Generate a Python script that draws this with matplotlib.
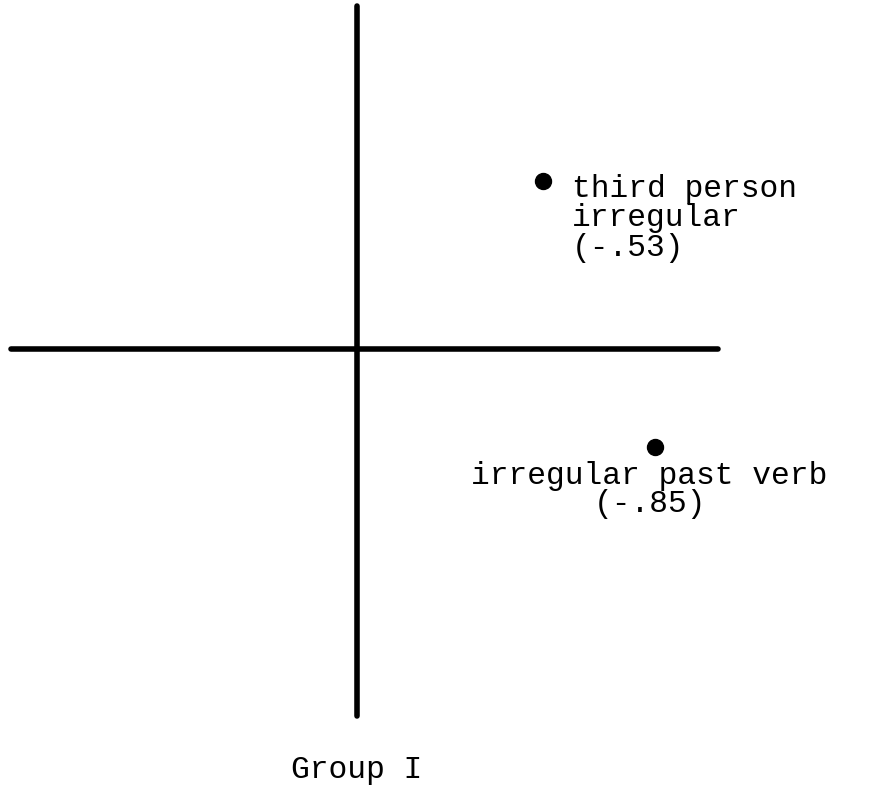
import matplotlib
matplotlib.use("Agg")
import matplotlib.pyplot as plt

# loadings for the two variables; horizontal position is the size of the loading
labels = ["third person\nirregular", "irregular past verb"]
loadings = [-0.53, -0.85]
y_pos = [0.48, -0.28]
group_name = "Group I"

# extent of the two axis arms
x_arm = (-0.99, 1.03)
y_arm = (-1.05, 0.98)

plt.rcParams['font.family'] = ['Liberation Mono', 'DejaVu Sans Mono']

fig = plt.figure(figsize=(8.96, 7.90), dpi=100)
ax = fig.add_axes([0, 0, 1, 1])
ax.set_xlim(-1.02, 1.54)
ax.set_ylim(-1.26, 0.997)
ax.axis('off')

ax.plot(x_arm, [0, 0], color='black', lw=4, solid_capstyle='round')
ax.plot([0, 0], y_arm, color='black', lw=4, solid_capstyle='round')

xs = [abs(v) for v in loadings]
ax.plot(xs, y_pos, 'o', color='black', ms=11.5)

fs = 22.5
# first point: label to the right of the dot
ax.text(xs[0] + 0.083, y_pos[0] - 0.106,
        labels[0] + "\n(%s)" % ("%.2f" % loadings[0]).replace("0.", "."),
        ha='left', va='center', fontsize=fs, linespacing=0.98)
# second point: label centred below the dot
ax.text(xs[1] - 0.014, y_pos[1] - 0.123,
        labels[1] + "\n(%s)" % ("%.2f" % loadings[1]).replace("0.", "."),
        ha='center', va='center', fontsize=fs, linespacing=0.95,
        multialignment='center')

ax.text(0, -1.203, group_name, ha='center', va='center', fontsize=fs)

fig.savefig("out.png", dpi=100)
